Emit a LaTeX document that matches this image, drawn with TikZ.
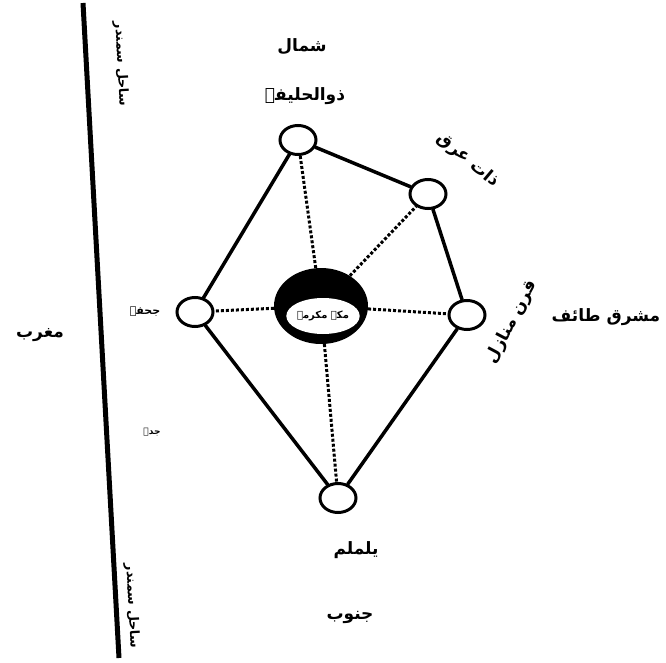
\documentclass[tikz,border=0pt]{standalone}
\usepackage{fontspec}
\usetikzlibrary{shapes.geometric}
\TeXXeTstate=1
\newfontfamily\ur[Script=Arabic]{DejaVu Sans}
\tikzset{
  station/.style={ellipse, draw, line width=3pt, minimum width=36pt, minimum height=29pt, inner sep=0pt, fill=white},
  route/.style={line width=3.5pt, line cap=round},
  ray/.style={line width=3pt, dotted},
  lbl/.style={font=\ur\bfseries\fontsize{17}{19}\selectfont, inner sep=0pt},
  coast/.style={font=\ur\bfseries\fontsize{13}{15}\selectfont, inner sep=0pt, rotate=-87},
  small/.style={font=\ur\bfseries\fontsize{11}{13}\selectfont, inner sep=0pt}
}
\begin{document}
\begin{tikzpicture}[x=1pt,y=-1pt]
\useasboundingbox[fill=white] (0,0) rectangle (666,663);
% coast
\coordinate (c1) at (83,3);
\coordinate (c2) at (119,658);
\draw[line width=5pt] (c1) -- (c2);
% stations
\node[station] (n)  at (298,140) {};
\node[station] (ne) at (428,194) {};
\node[station] (e)  at (467,315) {};
\node[station] (s)  at (338,498) {};
\node[station] (w)  at (195,312) {};
% Makkah
\node[ellipse, fill=black, minimum width=94pt, minimum height=76pt, inner sep=0pt] (mk) at (321,306) {};
\node[ellipse, fill=white, minimum width=58pt, minimum height=36pt, inner sep=0pt, font=\ur\bfseries\fontsize{10}{12}\selectfont] (mkin) at (323,316) {\beginR مکہ مکرمہ\endR};
% routes
\draw[route] (n) -- (ne);
\draw[route] (ne) -- (e);
\draw[route] (e) -- (s);
\draw[route] (s) -- (w);
\draw[route] (w) -- (n);
% rays
\draw[ray] (mk) -- (n);
\draw[ray] (mk) -- (ne);
\draw[ray] (mk) -- (e);
\draw[ray] (mk) -- (s);
\draw[ray] (mk) -- (w);
% labels
\node[lbl] (tnorth) at (302,47) {\beginR شمال\endR};
\node[lbl] (tdh) at (305,96) {\beginR ذوالحلیفہ\endR};
\node[lbl, rotate=-40] (tdi) at (468,160) {\beginR ذات عرق\endR};
\node[lbl, rotate=62] (tqm) at (512,322) {\beginR قرن منازل\endR};
\node[lbl] (teast) at (606,317) {\beginR مشرق طائف\endR};
\node[lbl] (twest) at (40,335) {\beginR مغرب\endR};
\node[small] (tju) at (145,312) {\beginR جحفہ\endR};
\node[small, font=\ur\bfseries\fontsize{9}{11}\selectfont] (tjd) at (152,432) {\beginR جدہ\endR};
\node[lbl] (tya) at (356,550) {\beginR یلملم\endR};
\node[lbl] (tsouth) at (350,617) {\beginR جنوب\endR};
\node[coast] (tcoast1) at (121,64) {\beginR ساحل سمندر\endR};
\node[coast] (tcoast2) at (132,606) {\beginR ساحل سمندر\endR};
\end{tikzpicture}
\end{document}
